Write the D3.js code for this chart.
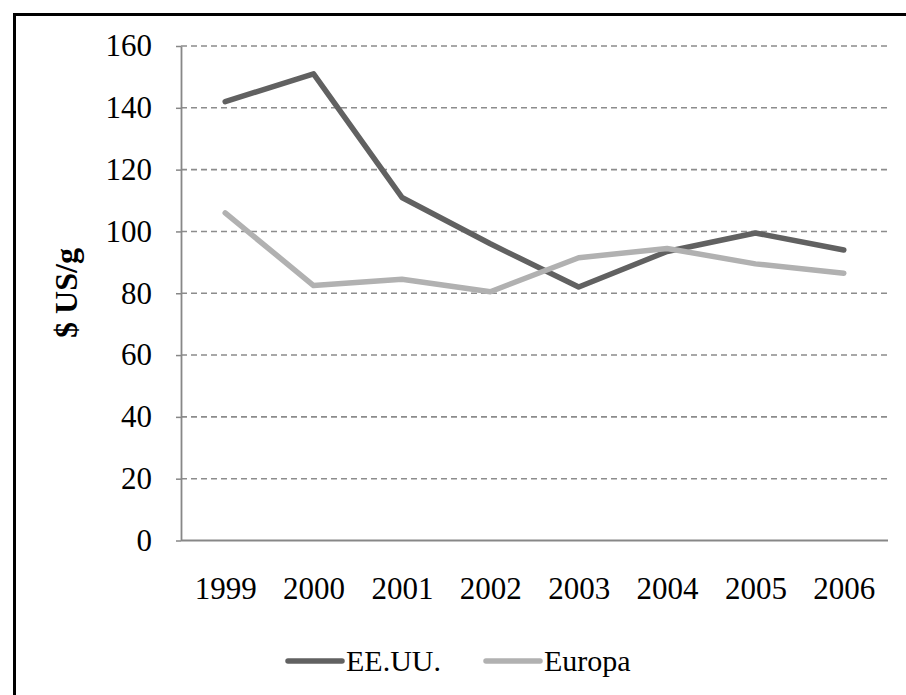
<!DOCTYPE html>
<html><head><meta charset="utf-8">
<script src="https://cdn.jsdelivr.net/npm/d3@7"></script>
<style>html,body{margin:0;padding:0;background:#fff;}svg{display:block;}</style>
</head><body>
<svg id="c" width="906" height="695"></svg>
<script>
const years = ["1999","2000","2001","2002","2003","2004","2005","2006"];
const eeuu = [142, 151, 111, 96, 82, 93.5, 99.5, 94];
const europa = [106, 82.5, 84.5, 80.5, 91.5, 94.5, 89.5, 86.5];
const yTicks = [0,20,40,60,80,100,120,140,160];
const seriesNames = ["EE.UU.","Europa"];
const seriesColors = ["#616161","#b1b1b1"];

const svg = d3.select("#c");
const font = "Liberation Serif, Times New Roman, Times, DejaVu Serif, serif";
const L = 181, R = 888, T = 46, B = 540.5;

svg.append("rect").attr("x",14.5).attr("y",14.5).attr("width",1000).attr("height",1000)
  .attr("fill","#fff").attr("stroke","#000").attr("stroke-width",3);

const x = d3.scalePoint().domain(years).range([L,R]).padding(0.5);
const y = d3.scaleLinear().domain([0,160]).range([B,T]);

svg.append("g").selectAll("line").data(yTicks.filter(d=>d>0)).join("line")
  .attr("x1",L).attr("x2",R).attr("y1",d=>y(d)).attr("y2",d=>y(d))
  .attr("stroke","#8c8c8c").attr("stroke-width",1.6).attr("stroke-dasharray","6,4");

const ya = svg.append("g").attr("transform",`translate(${L},0)`)
  .call(d3.axisLeft(y).tickValues(yTicks).tickSize(5).tickPadding(24).tickSizeOuter(0));
ya.select(".domain").attr("stroke","#878787").attr("stroke-width",1.8);
ya.selectAll(".tick line").attr("stroke","#878787").attr("stroke-width",1.5);
ya.selectAll("text").style("font-family",font).attr("font-size",31).attr("fill","#000");

const xa = svg.append("g").attr("transform",`translate(0,${B})`)
  .call(d3.axisBottom(x).tickSize(0).tickPadding(36));
xa.select(".domain").attr("d",`M${L},0H${R}`).attr("stroke","#878787").attr("stroke-width",1.8);
xa.selectAll("text").style("font-family",font).attr("font-size",31).attr("fill","#000");

const line = d3.line().x((d,i)=>x(years[i])).y(d=>y(d));
[eeuu, europa].forEach((s,k)=>{
  svg.append("path").datum(s).attr("d",line).attr("fill","none")
    .attr("stroke",seriesColors[k]).attr("stroke-width",5.5)
    .attr("stroke-linecap","round").attr("stroke-linejoin","round");
});

svg.append("text").attr("transform","translate(77,293) rotate(-90)")
  .attr("text-anchor","middle").style("font-family",font).attr("font-weight","bold")
  .attr("font-size",32).text("$ US/g");

const lg = [{x1:288,x2:342,tx:346},{x1:486,x2:540,tx:544}];
seriesNames.forEach((n,k)=>{
  svg.append("line").attr("x1",lg[k].x1).attr("x2",lg[k].x2).attr("y1",661).attr("y2",661)
    .attr("stroke",seriesColors[k]).attr("stroke-width",5.5).attr("stroke-linecap","round");
  svg.append("text").attr("x",lg[k].tx).attr("y",671).style("font-family",font)
    .attr("font-size",30).text(n);
});
</script>
</body></html>
